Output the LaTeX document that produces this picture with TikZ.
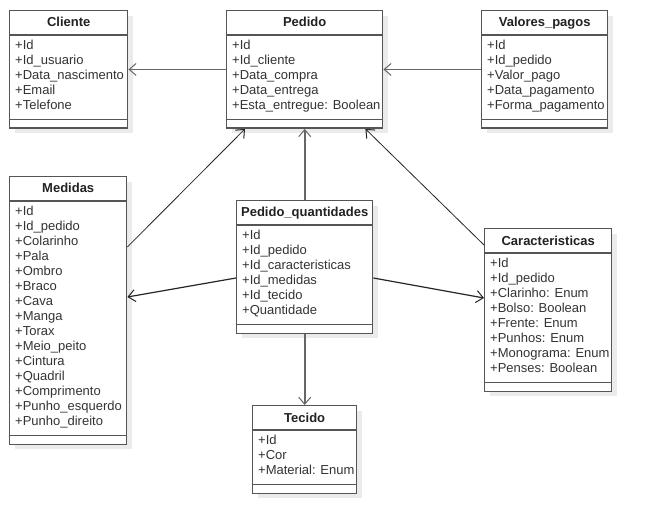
\documentclass[tikz,border=0pt]{standalone}
\usepackage{fontspec}
\setmainfont{Liberation Sans}
\usetikzlibrary{arrows.meta,shadows}
\definecolor{boxline}{HTML}{555555}
\definecolor{txt}{HTML}{333333}
\definecolor{ttl}{HTML}{222222}
\definecolor{conn}{HTML}{666666}
\tikzset{
  classbox/.style={draw=boxline, line width=1.4pt, fill=white, inner sep=0pt,
    general shadow={fill=black!8, shadow xshift=5pt, shadow yshift=-5pt}},
  divider/.style={draw=boxline, line width=1.4pt},
  clstitle/.style={font=\bfseries\fontsize{13}{15}\selectfont, text=ttl, inner sep=0pt, anchor=base},
  attr/.style={font=\fontsize{13}{15}\selectfont, text=txt, inner sep=0pt, anchor=base west},
  assoc/.style={draw=conn, line width=1.8pt, -{Straight Barb[length=7pt,width=12pt,line width=1pt]}},
  thinassoc/.style={draw=black!85, line width=0.8pt, -{Straight Barb[length=7pt,width=12pt,line width=1pt]}},
}
% id, x, y, width, title, number of rows, rows
\newcommand\umlclass[7]{%
  \pgfmathsetmacro\clsh{25+15*#6+8+9.5}
  \node[classbox, minimum width=#4pt, minimum height=\clsh pt, anchor=north west] (#1) at (#2,#3) {};
  \draw[divider] ([yshift=-25pt]#1.north west) -- ([yshift=-25pt]#1.north east);
  \draw[divider] ([yshift=9.5pt]#1.south west) -- ([yshift=9.5pt]#1.south east);
  \node[clstitle] (#1-title) at ([yshift=-17pt]#1.north) {#5};
  \foreach \rowtext [count=\i] in {#7} {
    \pgfmathsetmacro\rowoff{39.5+15*(\i-1)}
    \node[attr] (#1-a\i) at ([xshift=6pt, yshift=-\rowoff pt]#1.north west) {\rowtext};
  }
}
\begin{document}
\begin{tikzpicture}[x=1pt,y=-1pt]
  \fill[white] (0,0) rectangle (651,532);
  \useasboundingbox (0,0) rectangle (651,532);

  \umlclass{cliente}{9}{10}{118}{Cliente}{5}{+Id,+Id\_usuario,+Data\_nascimento,+Email,+Telefone}
  \umlclass{pedido}{226}{10}{156}{Pedido}{5}{+Id,+Id\_cliente,+Data\_compra,+Data\_entrega,+Esta\_entregue: Boolean}
  \umlclass{valores}{481}{10}{126}{Valores\_pagos}{5}{+Id,+Id\_pedido,+Valor\_pago,+Data\_pagamento,+Forma\_pagamento}
  \umlclass{medidas}{9}{176}{117}{Medidas}{15}{+Id,+Id\_pedido,+Colarinho,+Pala,+Ombro,+Braco,+Cava,+Manga,+Torax,+Meio\_peito,+Cintura,+Quadril,+Comprimento,+Punho\_esquerdo,+Punho\_direito}
  \umlclass{pq}{236}{200}{136}{Pedido\_quantidades}{6}{+Id,+Id\_pedido,+Id\_caracteristicas,+Id\_medidas,+Id\_tecido,+Quantidade}
  \umlclass{car}{484}{228}{127}{Caracteristicas}{8}{+Id,+Id\_pedido,+Clarinho: Enum,+Bolso: Boolean,+Frente: Enum,+Punhos: Enum,+Monograma: Enum,+Penses: Boolean}
  \umlclass{tecido}{252}{405}{104}{Tecido}{3}{+Id,+Cor,+Material: Enum}

  \draw[assoc] (pedido.west) -- (cliente.east);
  \draw[assoc] (valores.west) -- (pedido.east);
  \draw[assoc] (pq.north) -- (pedido.south -| pq.north);
  \draw[assoc] (pq.south) -- (tecido.north);
  \draw[thinassoc] ([yshift=-71pt]medidas.north east) -- ([xshift=19pt]pedido.south west);
  \draw[thinassoc] ([yshift=-17pt]car.north west) -- ([xshift=-18pt]pedido.south east);
  \draw[thinassoc, line width=1.2pt] ([yshift=-78pt]pq.north west) -- ([yshift=-121pt]medidas.north east);
  \draw[thinassoc, line width=1.2pt] ([yshift=-78pt]pq.north east) -- ([yshift=-70pt]car.north west);
\end{tikzpicture}
\end{document}
